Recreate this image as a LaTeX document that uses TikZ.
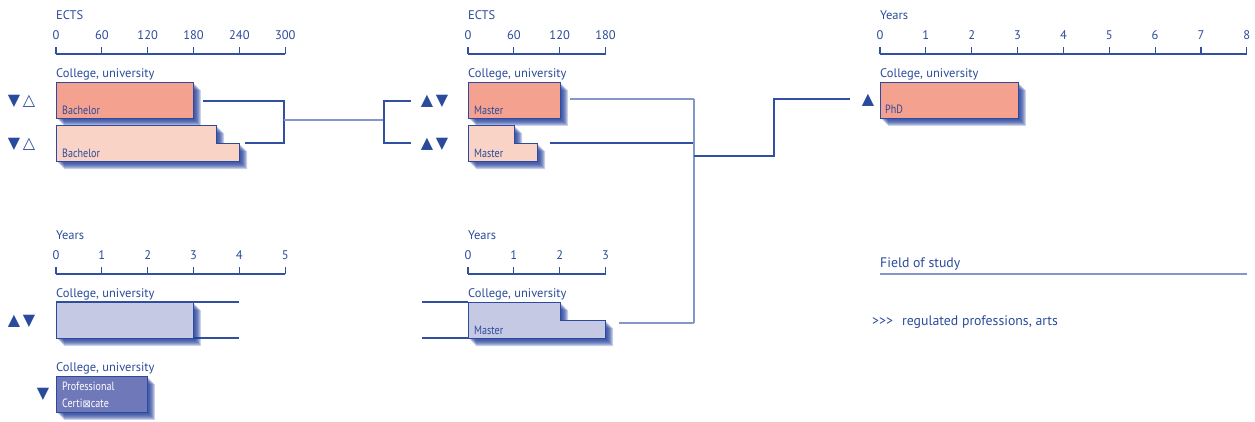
\documentclass[tikz,border=0pt]{standalone}
\usepackage{fontspec}
\setmainfont{PT Sans}
\newfontfamily\narrowf{PT Sans}[FakeStretch=0.84]
\newfontfamily\symf{DejaVu Sans}
\definecolor{txt}{HTML}{2A4B9B}
\definecolor{lnd}{HTML}{3150A2}
\definecolor{lnl}{HTML}{8497CC}
\definecolor{salmon}{HTML}{F4A190}
\definecolor{pinkl}{HTML}{F9D3C5}
\definecolor{lav}{HTML}{C6C9E4}
\definecolor{dpurp}{HTML}{6F79BA}
\definecolor{shad}{HTML}{24409A}
\definecolor{outl}{HTML}{2E4A9E}
\newcommand\shadowof[1]{\foreach \d in {2,...,8}{\fill[shad,opacity=0.24,shift={(\d,\d)}] #1;}}
\begin{document}
\begin{tikzpicture}[x=1pt,y=-1pt,
 ttl/.style={anchor=base west,inner sep=0,text=txt,font=\fontsize{12.5}{14}\selectfont},
 bigl/.style={anchor=base west,inner sep=0,text=txt,font=\fontsize{13.8}{16}\selectfont},
 tlab/.style={anchor=base,inner sep=0,text=txt,font=\fontsize{12.5}{14}\selectfont},
 blab/.style={anchor=base west,inner sep=0,text=txt,font=\narrowf\fontsize{12}{14}\selectfont},
 axisl/.style={draw=lnd,line width=1.1pt},
 boxd/.style={draw=outl,line width=1pt},
 rbox/.style={boxd,anchor=north west,inner sep=0,minimum height=36pt},
 cd/.style={draw=lnd,line width=1.2pt},
 cl/.style={draw=lnl,line width=1.4pt},
 tri/.style={inner sep=0,text=txt,font=\symf\fontsize{16}{16}\selectfont},
]
\useasboundingbox (0,0) rectangle (1255,421);

% ---------- scales ----------
\node[ttl] (h1) at (56,19) {ECTS};
\draw[axisl] (56,54) -- (285,54);
\foreach \i/\l in {0/0,1/60,2/120,3/180,4/240,5/300}{
  \draw[axisl] ({56+45.85*\i},54) -- ++(0,-7);
  \node[tlab] (a\i) at ({56+45.85*\i},39) {\l};}

\node[ttl] (h2) at (468,19) {ECTS};
\draw[axisl] (468,54) -- (605.5,54);
\foreach \i/\l in {0/0,1/60,2/120,3/180}{
  \draw[axisl] ({468+45.85*\i},54) -- ++(0,-7);
  \node[tlab] (b\i) at ({468+45.85*\i},39) {\l};}

\node[ttl] (h3) at (880,19) {Years};
\draw[axisl] (880,54) -- (1247,54);
\foreach \i in {0,...,8}{
  \draw[axisl] ({880+45.85*\i},54) -- ++(0,-7);
  \node[tlab] (c\i) at ({880+45.85*\i},39) {\i};}

\node[ttl] (h4) at (56,239) {Years};
\draw[axisl] (56,274) -- (285,274);
\foreach \i in {0,...,5}{
  \draw[axisl] ({56+45.85*\i},274) -- ++(0,-7);
  \node[tlab] (d\i) at ({56+45.85*\i},259) {\i};}

\node[ttl] (h5) at (468,239) {Years};
\draw[axisl] (468,274) -- (605.5,274);
\foreach \i in {0,...,3}{
  \draw[axisl] ({468+45.85*\i},274) -- ++(0,-7);
  \node[tlab] (e\i) at ({468+45.85*\i},259) {\i};}

% ---------- headings ----------
\node[ttl] (cu1) at (56,77) {College, university};
\node[ttl] (cu2) at (468,77) {College, university};
\node[ttl] (cu3) at (880,77) {College, university};
\node[ttl] (cu4) at (56,297) {College, university};
\node[ttl] (cu5) at (468,297) {College, university};
\node[ttl] (cu6) at (56,371) {College, university};

% ---------- Bachelor ----------
\shadowof{(56,82) rectangle (193,118)}
\node[rbox,fill=salmon,minimum width=137pt] (bach1) at (56,82) {};
\node[blab] (lb1) at (62,114) {Bachelor};
\shadowof{(56,125) -- (216,125) -- (216,143) -- (239,143) -- (239,161) -- (56,161) -- cycle}
\draw[boxd,fill=pinkl] (56,125) -- (216,125) -- (216,143) -- (239,143) -- (239,161) -- (56,161) -- cycle;
\node[blab] (lb2) at (62,157) {Bachelor};

% ---------- Master (ECTS) ----------
\shadowof{(468,82) rectangle (560,118)}
\node[rbox,fill=salmon,minimum width=92pt] (mast1) at (468,82) {};
\node[blab] (lm1) at (474,114) {Master};
\shadowof{(468,125) -- (514,125) -- (514,143) -- (537,143) -- (537,161) -- (468,161) -- cycle}
\draw[boxd,fill=pinkl] (468,125) -- (514,125) -- (514,143) -- (537,143) -- (537,161) -- (468,161) -- cycle;
\node[blab] (lm2) at (474,157) {Master};

% ---------- PhD ----------
\shadowof{(880,82) rectangle (1018,118)}
\node[rbox,fill=salmon,minimum width=138pt] (phd) at (880,82) {};
\node[blab] (lp) at (885,113) {PhD};

% ---------- lower left ----------
\draw[cd] (56,302) -- (239,302);
\draw[cd] (56,338) -- (239,338);
\shadowof{(56,302) rectangle (193,338)}
\node[rbox,fill=lav,minimum width=137pt] (lav1) at (56,302) {};

\shadowof{(56,376) rectangle (147,412)}
\node[rbox,fill=dpurp,minimum width=91pt] (cert) at (56,376) {};
\node[blab,text=white] (lc1) at (62,390) {Professional};
\node[blab,text=white] (lc2) at (62,407) {Certi{\symf\fontsize{10}{12}\selectfont ⊠}cate};

% ---------- lower middle ----------
\draw[cd] (422,302) -- (468,302);
\draw[cd] (422,338) -- (468,338);
\shadowof{(468,302) -- (560,302) -- (560,320) -- (605,320) -- (605,338) -- (468,338) -- cycle}
\draw[boxd,fill=lav] (468,302) -- (560,302) -- (560,320) -- (605,320) -- (605,338) -- (468,338) -- cycle;
\node[blab] (lm3) at (474,334) {Master};

% ---------- field of study ----------
\node[bigl] (fos) at (880,267) {Field of study};
\draw[cl,line width=1.8pt] (880,274) -- (1247,274);
\node[bigl] (reg) at (872,325) {{>}{>}{>}\hspace{9pt}regulated professions, arts};

% ---------- triangles ----------
\node[tri] (t1) at (14,101) {▼};
\node[tri] (t2) at (29,101) {△};
\node[tri] (t3) at (14,144) {▼};
\node[tri] (t4) at (29,144) {△};
\node[tri] (t5) at (427,101) {▲};
\node[tri] (t6) at (442,101) {▼};
\node[tri] (t7) at (427,144) {▲};
\node[tri] (t8) at (442,144) {▼};
\node[tri] (t9) at (868,100) {▲};
\node[tri] (t10) at (14,321) {▲};
\node[tri] (t11) at (29,321) {▼};
\node[tri] (t12) at (43,394) {▼};

% ---------- connectors ----------
\coordinate (b1out) at (203,101);
\coordinate (b2out) at (245,143);
\coordinate (j1) at (284,120);
\coordinate (j2) at (384,120);
\coordinate (m1in) at (411,101);
\coordinate (m2in) at (411,143);
\coordinate (m1out) at (570,99);
\coordinate (m2out) at (550,143);
\coordinate (m3out) at (619,323);
\coordinate (vtop) at (694,99);
\coordinate (vbot) at (694,323);
\coordinate (v) at (694,156);
\coordinate (phdin) at (850,99);
\draw[cd] (b1out) -| (j1) |- (b2out);
\draw[cl] (j1) -- (j2);
\draw[cd] (m1in) -| (j2) |- (m2in);
\draw[cl] (m1out) -- (vtop);
\draw[cd] (m2out) -- (694,143);
\draw[cl] (m3out) -- (vbot);
\draw[cl] (vtop) -- (vbot);
\draw[cd] (v) -| (774,99) -- (phdin);
\end{tikzpicture}
\end{document}
